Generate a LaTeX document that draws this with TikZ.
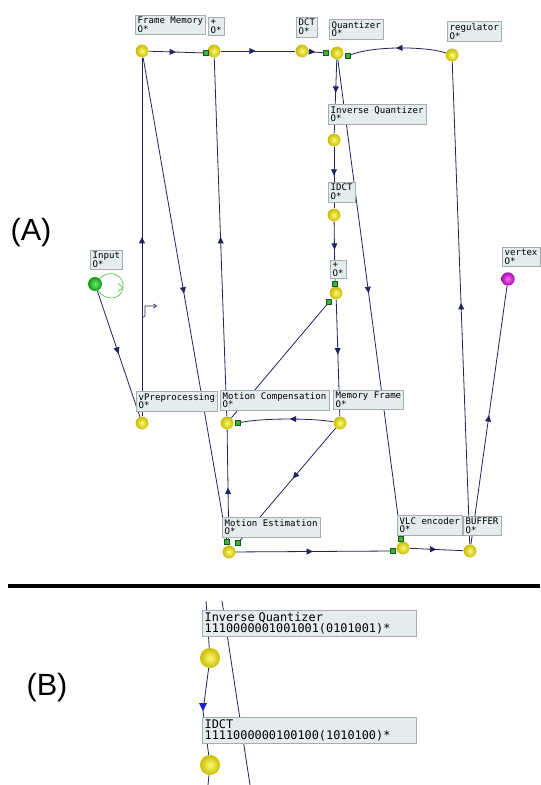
\documentclass[tikz,border=0pt]{standalone}
\usepackage{fontspec}
\setmainfont{Liberation Sans}
\newfontfamily\labmono{DejaVu Sans Mono}
\usetikzlibrary{arrows.meta,decorations.markings}
\pgfdeclarelayer{bg}
\pgfdeclarelayer{edges}
\pgfsetlayers{bg,edges,main}

\definecolor{edgec}{RGB}{35,35,95}
\definecolor{boxfill}{RGB}{228,236,238}
\definecolor{boxline}{RGB}{165,172,175}
\definecolor{yIn}{RGB}{252,250,120}
\definecolor{yOut}{RGB}{200,188,0}
\definecolor{gIn}{RGB}{110,235,110}
\definecolor{gOut}{RGB}{20,150,20}
\definecolor{mIn}{RGB}{245,110,245}
\definecolor{mOut}{RGB}{170,10,170}
\definecolor{portG}{RGB}{60,175,60}
\definecolor{portD}{RGB}{20,90,20}
\definecolor{loopG}{RGB}{100,205,100}
\definecolor{bluetip}{RGB}{30,30,210}

\tikzset{
  ball/.style={circle, inner sep=0pt, minimum size=9.6pt, shade,
    inner color=yIn, outer color=yOut},
  lab/.style={draw=boxline, fill=boxfill, align=left, anchor=north west,
    inner xsep=1.8pt, inner ysep=1.4pt,
    font=\labmono\fontsize{6.8}{6.7}\selectfont},
  blab/.style={lab, text width=157pt, minimum height=19.5pt,
    font=\labmono\fontsize{8.9}{8.6}\selectfont},
  port/.style={rectangle, draw=portD, fill=portG, minimum size=3.6pt,
    inner sep=0pt, line width=0.4pt},
  edge/.style={draw=edgec, line width=0.6pt},
  arrowat/.style={postaction={decorate, decoration={markings,
    mark=at position #1 with {\arrow{Triangle[length=4.8pt,width=4.4pt]}}}}},
  biglabel/.style={font=\fontsize{23}{23}\selectfont, inner sep=0pt}
}

\begin{document}
\begin{tikzpicture}[x=0.75pt, y=-0.75pt]
\begin{pgfonlayer}{bg}
  \fill[white] (0,0) rectangle (540,785);
\end{pgfonlayer}
\useasboundingbox (0,0) rectangle (540,785);

% ---------- part (A): vertices ----------
\node[ball] (fm)   at (142,51)  {};
\node[ball] (pa)   at (214,51)  {};
\node[ball] (dct)  at (302,51)  {};
\node[ball] (q)    at (337,53)  {};
\node[ball] (reg)  at (452,55)  {};
\node[ball] (iq)   at (334,140) {};
\node[ball] (idct) at (334,215) {};
\node[ball] (pb)   at (336,293) {};
\node[ball, inner color=gIn, outer color=gOut, minimum size=10.5pt] (inp) at (95,284) {};
\node[ball, inner color=mIn, outer color=mOut, minimum size=10pt] (vtx) at (508,279) {};
\node[ball] (vpre) at (142,423) {};
\node[ball] (mc)   at (227,423) {};
\node[ball] (mf)   at (340,423) {};
\node[ball] (me)   at (229,552) {};
\node[ball] (vlc)  at (403,548) {};
\node[ball] (buf)  at (470,551) {};

% vertex labels
\node[lab] (fm-l)   at (135,15)  {Frame Memory\\O*};
\node[lab] (pa-l)   at (208,17)  {+\\O*};
\node[lab] (dct-l)  at (296,17)  {DCT\\O*};
\node[lab] (q-l)    at (329,19)  {Quantizer\\O*};
\node[lab] (reg-l)  at (447,21)  {regulator\\O*};
\node[lab] (iq-l)   at (328,104) {Inverse Quantizer\\O*};
\node[lab] (idct-l) at (328,182) {IDCT\\O*};
\node[lab] (pb-l)   at (330,260) {+\\O*};
\node[lab] (inp-l)  at (90,250)  {Input\\O*};
\node[lab] (vtx-l)  at (502,247) {vertex\\O*};
\node[lab] (vpre-l) at (136,391) {vPreprocessing\\O*};
\node[lab] (mc-l)   at (220,390) {Motion Compensation\\O*};
\node[lab] (mf-l)   at (333,390) {Memory Frame\\O*};
\node[lab] (me-l)   at (222,517) {Motion Estimation\\O*};
\node[lab] (vlc-l)  at (397,515) {VLC encoder\\O*};
\node[lab] (buf-l)  at (463,516) {BUFFER\\O*};

% edge ports
\node[port] (p1)  at (206,53)  {};
\node[port] (p2)  at (326,53)  {};
\node[port] (p3)  at (348,56)  {};
\node[port] (p4)  at (335,284) {};
\node[port] (p5)  at (329,302) {};
\node[port] (p6)  at (238,423) {};
\node[port] (p7)  at (227,542) {};
\node[port] (p8)  at (238,543) {};
\node[port] (p9)  at (393,551) {};
\node[port] (p10) at (401,539) {};

% ---------- part (A): edges ----------
\begin{pgfonlayer}{edges}
  \draw[edge, arrowat=0.5]  (fm) -- (p1);
  \draw[edge, arrowat=0.47] (pa) -- (dct);
  \draw[edge, arrowat=0.45] (dct) -- (p2);
  \draw[edge, arrowat=0.52] (reg) .. controls (425,46) and (372,46) .. (p3);
  \draw[edge, arrowat=0.45] (q) -- (iq);
  \draw[edge, arrowat=0.49] (q) -- (p10);
  \draw[edge, arrowat=0.47] (iq) -- (idct);
  \draw[edge, arrowat=0.47] (idct) -- (p4);
  \draw[edge, arrowat=0.47] (pb) -- (mf);
  \draw[edge] (mc) -- (p5);
  \draw[edge, arrowat=0.47] (mf) .. controls (312,418) and (262,418) .. (p6);
  \draw[edge, arrowat=0.45] (mf) -- (p8);
  \draw[edge, arrowat=0.5]  (me) -- (mc);
  \draw[edge, arrowat=0.5]  (me) -- (p9);
  \draw[edge, arrowat=0.5]  (vlc) -- (buf);
  \draw[edge, arrowat=0.5]  (buf) -- (reg);
  \draw[edge, arrowat=0.5]  (buf) -- (vtx);
  \draw[edge, arrowat=0.5]  (inp) -- (vpre);
  \draw[edge, arrowat=0.5]  (vpre) -- (fm);
  \draw[edge, arrowat=0.49] (fm) -- (p7);
  \draw[edge, arrowat=0.5]  (mc) -- (pa);
\end{pgfonlayer}

% self loop on the input vertex
\draw[loopG, line width=0.6pt] (inp) .. controls (108,269) and (125,274) .. (123,288)
  .. controls (121,301) and (104,301) .. (inp);
\draw[loopG, line width=0.6pt] (118,283.5) -- (123,287.5) -- (118,291.5);

% small hook marker
\draw[edgec, line width=0.5pt, -{Straight Barb[length=2.2pt,width=3pt]}]
  (142,318) -- (145,316) -- (145,306) -- (157,306);

\node[biglabel] (lblA) at (31,233) {(A)};

% separator
\draw[black, line width=3pt] (8,586) -- (540,586);

% ---------- part (B) ----------
\node[biglabel] (lblB) at (47,688) {(B)};

\node[ball, minimum size=15pt] (b1) at (210,658) {};
\node[ball, minimum size=15pt] (b2) at (210,765) {};
\node[blab] (biq-l)   at (202,610) {Inverse Quantizer\\1110000001001001(0101001)*};
\node[blab] (bidct-l) at (202,717) {IDCT\\1111000000100100(1010100)*};

\coordinate (ba0) at (206,601);
\coordinate (ba1) at (203,711);
\coordinate (ba2) at (208,785);
\coordinate (bb0) at (222,601);
\coordinate (bb1) at (250,785);

\begin{pgfonlayer}{edges}
  \draw[edge] (ba0) -- (b1);
  \draw[edge] (b1) -- (ba1);
  \draw[edge] (ba1) -- (b2);
  \draw[edge] (b2) -- (ba2);
  \draw[edge] (bb0) -- (bb1);
\end{pgfonlayer}
\fill[bluetip] (ba1) -- (199,703) -- (207,703) -- cycle;
\end{tikzpicture}
\end{document}
